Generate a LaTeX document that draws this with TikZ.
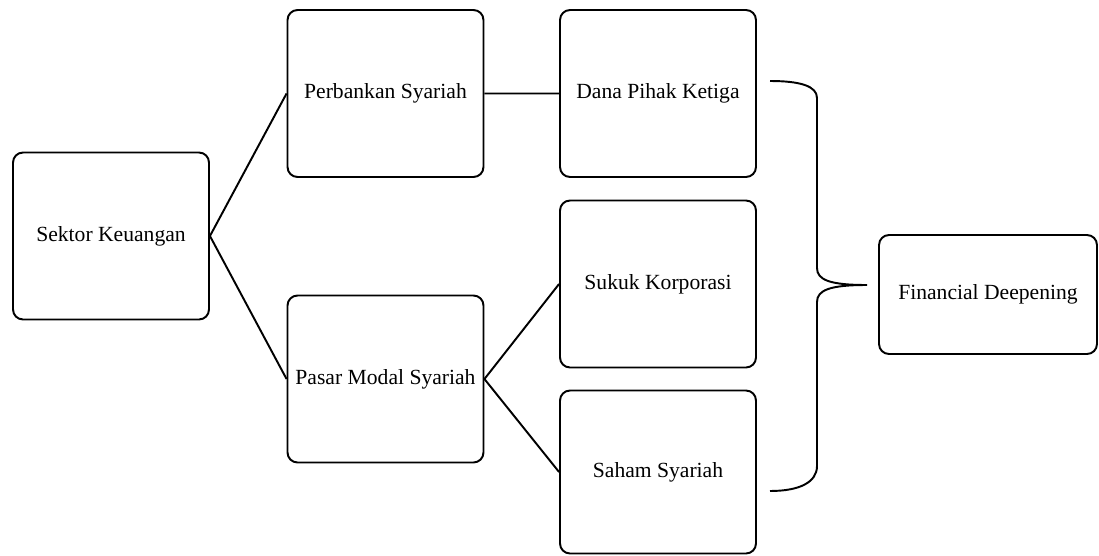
\documentclass[tikz,border=0pt]{standalone}
\usepackage{fontspec}
\setmainfont{Liberation Serif}
\usepackage{tikz}

\begin{document}
\begin{tikzpicture}[x=0.02cm,y=-0.02cm,line width=1.1pt,
	box/.style={draw,rounded corners=0.2cm,align=center,inner sep=2pt,
		font=\fontsize{12.3}{14}\selectfont,minimum width=3.92cm,minimum height=3.34cm}]
	\useasboundingbox (0,0) rectangle (1099,555);
	\node[box]         (sektor) at (111,236) {Sektor Keuangan};
	\node[box]         (bank) at (385.5,93.5) {Perbankan Syariah};
	\node[box]         (pasar) at (385.5,379) {Pasar Modal Syariah};
	\node[box]         (dpk) at (658,93.5) {Dana Pihak Ketiga};
	\node[box]         (sukuk) at (658,284) {Sukuk Korporasi};
	\node[box,minimum height=3.26cm] (saham) at (658,472) {Saham Syariah};
	\node[box,minimum width=4.36cm,minimum height=2.38cm] (fd) at (988,294.5) {Financial Deepening};
	
	\draw (sektor.east) -- (bank.west)
	(sektor.east) -- (pasar.west)
	(bank.east) -- (dpk.west)
	(pasar.east) -- (sukuk.west)
	(pasar.east) -- (saham.west);
	
	% kurung kurawal
	\draw (770,81) .. controls (800,81) and (817,86) .. (817,98) -- (817,268)
	.. controls (817,280) and (830,285) .. (867,285)
	.. controls (830,285) and (817,290) .. (817,302) -- (817,466)
	.. controls (817,482) and (800,491) .. (770,491);
\end{tikzpicture}
\end{document}
